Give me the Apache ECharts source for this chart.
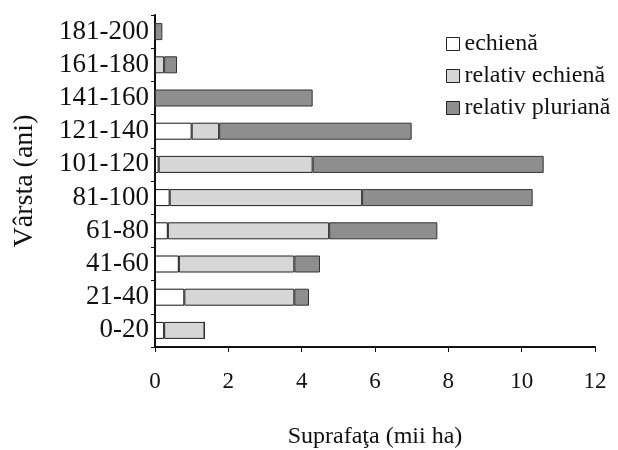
<!DOCTYPE html>
<html>
<head>
<meta charset="utf-8">
<script src="https://cdn.jsdelivr.net/npm/echarts@6/dist/echarts.min.js"></script>
<style>
  html, body { margin: 0; padding: 0; background: #fff; }
  #chart { width: 618px; height: 450px; }
</style>
</head>
<body>
<div id="chart"></div>
<script>
// categorii de varsta (ani)
var varsta = ['0-20', '21-40', '41-60', '61-80', '81-100', '101-120', '121-140', '141-160', '161-180', '181-200'];
// suprafata (mii ha) pe tipuri de structura
var echiena = [0.25, 0.8, 0.65, 0.35, 0.4, 0.1, 1.0, 0, 0, 0];
var relativEchiena = [1.1, 3.0, 3.15, 4.4, 5.25, 4.2, 0.75, 0, 0.25, 0];
var relativPluriena = [0, 0.4, 0.7, 2.95, 4.65, 6.3, 5.25, 4.3, 0.35, 0.2];
var xTicks = [0, 2, 4, 6, 8, 10, 12];

var font = '"Liberation Serif", serif';
var myChart = echarts.init(document.getElementById('chart'));

function serie(name, data, color, border) {
    return {
        name: name,
        type: 'bar',
        stack: 'total',
        data: data,
        barWidth: 17,
        itemStyle: {
            color: color,
            borderColor: border,
            borderWidth: 1
        }
    };
}

var option = {
    backgroundColor: '#ffffff',
    animation: false,
    textStyle: { fontFamily: font },
    grid: { left: 155, right: 23, top: 15, bottom: 103, outerBoundsMode: 'none', containLabel: false },
    legend: {
        orient: 'vertical',
        left: 441,
        top: 27,
        itemWidth: 13,
        itemHeight: 13,
        itemGap: 8,
        icon: 'rect',
        itemStyle: { borderColor: '#222', borderWidth: 1 },
        textStyle: { fontFamily: font, fontSize: 24, color: '#111', lineHeight: 24 },
        data: ['echienă', 'relativ echienă', 'relativ pluriană']
    },
    xAxis: {
        type: 'value',
        min: xTicks[0],
        max: xTicks[xTicks.length - 1],
        interval: 2,
        name: 'Suprafaţa (mii ha)',
        nameLocation: 'middle',
        nameGap: 78,
        nameTextStyle: { fontFamily: font, fontSize: 24, color: '#111' },
        axisLine: { show: true, lineStyle: { color: '#111', width: 2 } },
        axisTick: { show: true, length: 5, lineStyle: { color: '#111' } },
        axisLabel: { fontFamily: font, fontSize: 23, color: '#111', margin: 23 },
        splitLine: { show: false }
    },
    yAxis: {
        type: 'category',
        data: varsta,
        name: 'Vârsta (ani)',
        nameLocation: 'middle',
        nameGap: 116,
        nameTextStyle: { fontFamily: font, fontSize: 28, color: '#111' },
        axisLine: { show: true, lineStyle: { color: '#111', width: 2 } },
        axisTick: { show: true, length: 4, lineStyle: { color: '#111' } },
        axisLabel: { interval: 0, fontFamily: font, fontSize: 27, lineHeight: 28, color: '#111', margin: 6 }
    },
    series: [
        serie('echienă', echiena, '#ffffff', '#111'),
        serie('relativ echienă', relativEchiena, '#d6d6d6', '#222'),
        serie('relativ pluriană', relativPluriena, '#8e8e8e', '#333')
    ]
};

myChart.setOption(option);
</script>
</body>
</html>
